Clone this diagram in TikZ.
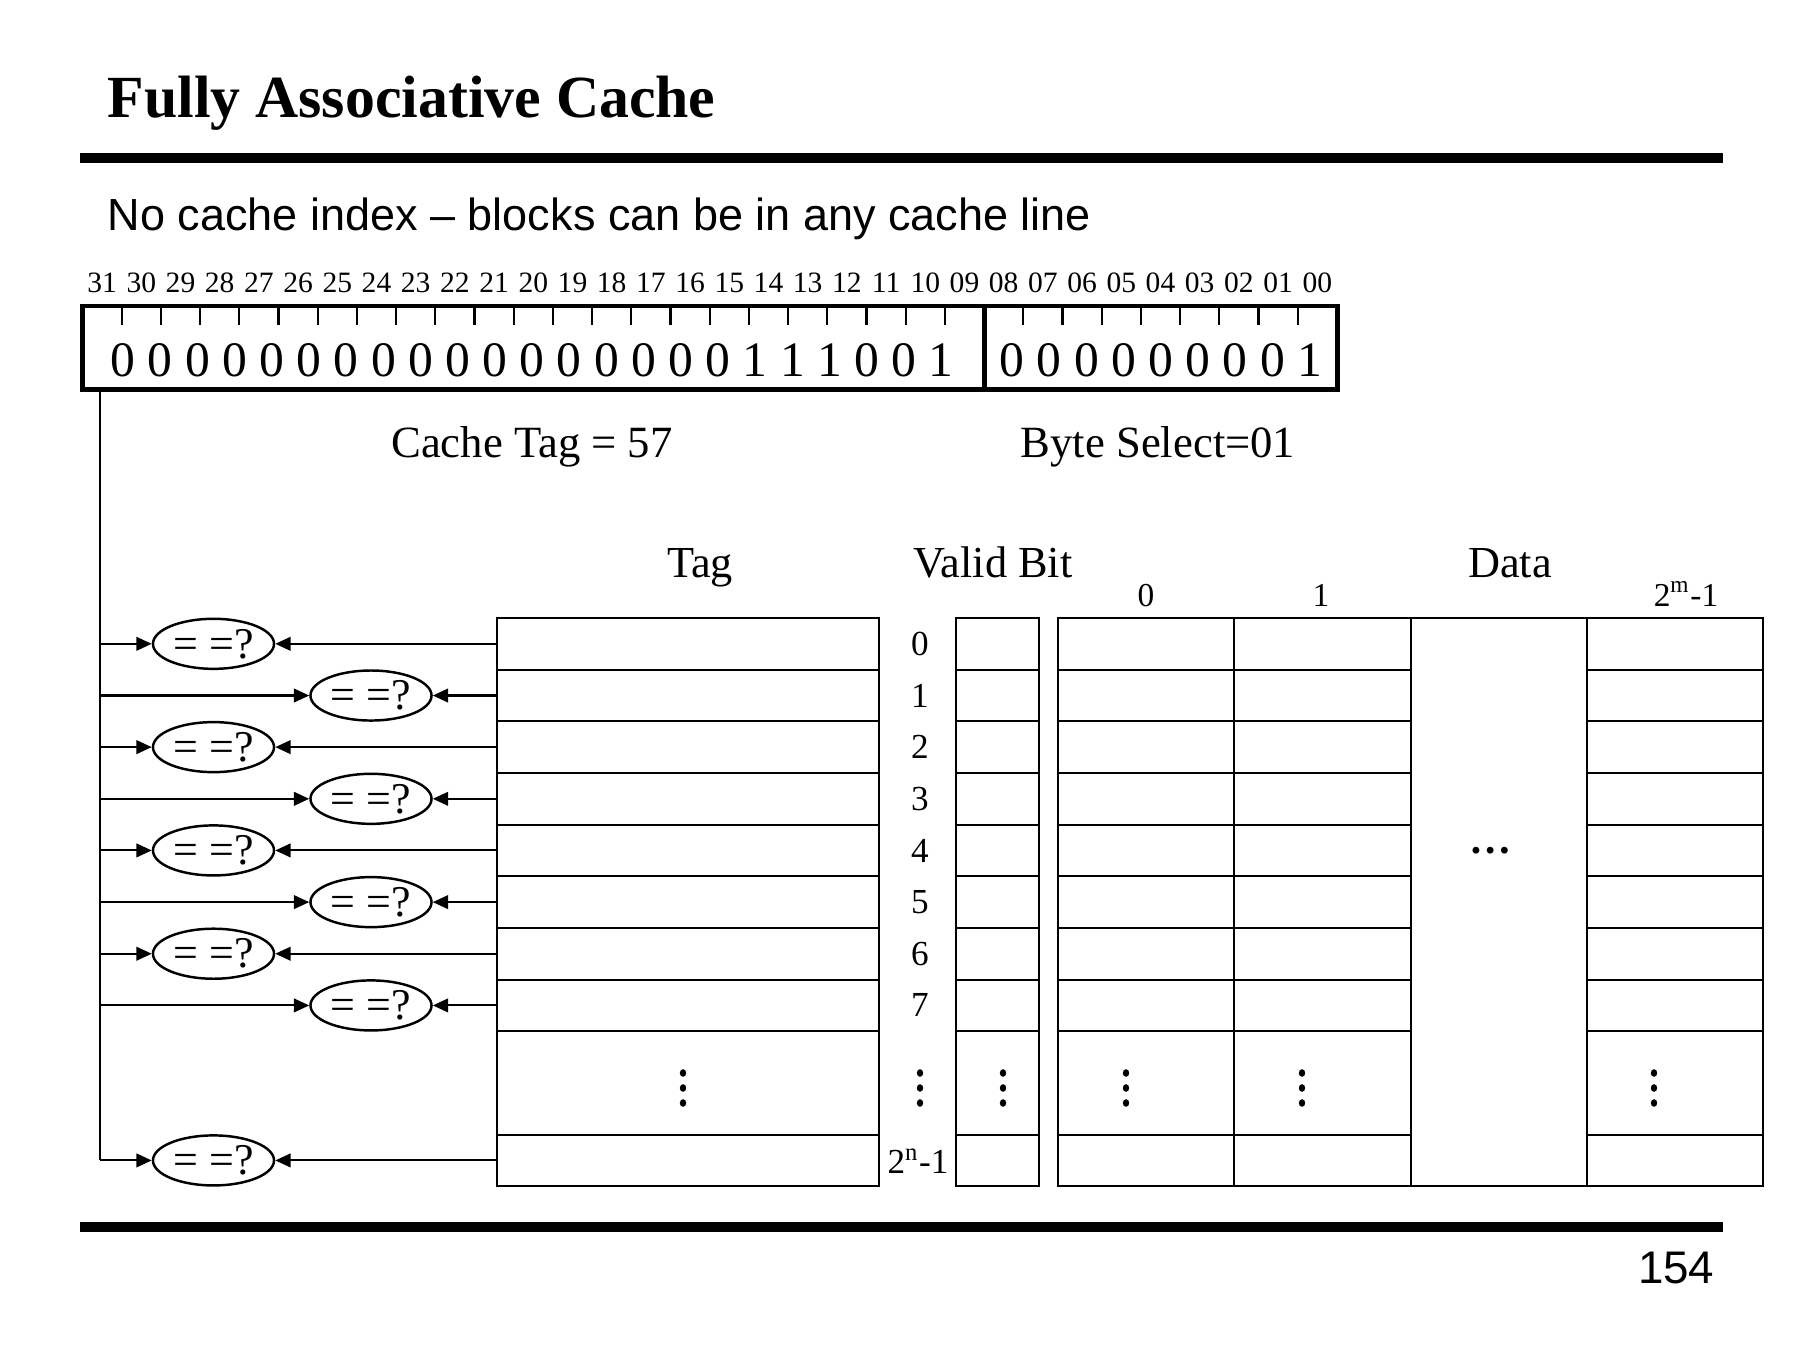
\documentclass[tikz,border=0pt]{standalone}
\usepackage{fontspec}
\setmainfont{Liberation Serif}
\setsansfont{Liberation Sans}
\usetikzlibrary{shapes.geometric,arrows.meta,positioning}

\begin{document}
\begin{tikzpicture}[
  x=0.01cm, y=-0.01cm,
  >={Triangle[length=4.4pt,width=3.9pt]},
  rule/.style={line width=2.85pt},
  txt/.style={inner sep=0pt,anchor=base},
  slot/.style={draw,line width=0.6pt,inner sep=0pt,outer sep=0pt,minimum height=0.5165cm},
  cmp/.style={ellipse,draw,line width=0.7pt,inner sep=0pt,minimum width=1.21cm,
    minimum height=0.5cm,font=\fontsize{12.5}{13}\selectfont},
  link/.style={->,line width=0.6pt}
]
  \useasboundingbox (0,0) rectangle (1800,1350);

  % heading
  \node[txt,anchor=base west,font=\bfseries\fontsize{17}{20}\selectfont] (title) at (107,117) {Fully Associative Cache};
  \draw[rule] (80,158) -- (1723,158);
  \node[txt,anchor=base west,font=\sffamily\fontsize{12.8}{15}\selectfont] (subtitle) at (107,230) {No cache index – blocks can be in any cache line};

  % address word
  \foreach \n [count=\k from 0] in {31,30,29,28,27,26,25,24,23,22,21,20,19,18,17,16,15,14,13,12,11,10,09,08,07,06,05,04,03,02,01,00}
    \node[txt,font=\fontsize{8.4}{9}\selectfont] (bitno\k) at (102.1+\k*39.2,292) {\n};
  \node[draw,line width=1.4pt,minimum width=12.545cm,minimum height=0.835cm,inner sep=0pt] (addr) at (709.7,347.75) {};
  \foreach \k in {1,...,22,24,25,...,31}
    \draw[line width=0.6pt] (82.5+\k*39.2,306) -- ++(0,19);
  \draw[line width=1.4pt] (984.1,306) -- (984.1,389.5);
  \node[txt,anchor=base west,font=\fontsize{14.1}{16}\selectfont] (tagbits) at (110,376) {0 0 0 0 0 0 0 0 0 0 0 0 0 0 0 0 0 1 1 1 0 0 1};
  \node[txt,anchor=base west,font=\fontsize{14.1}{16}\selectfont] (offbits) at (999,376) {0 0 0 0 0 0 0 0 1};
  \node[txt,font=\fontsize{12.7}{15}\selectfont] (tagcap) at (532,457) {Cache Tag = 57};
  \node[txt,font=\fontsize{12.7}{15}\selectfont] (bytecap) at (1158,457) {Byte Select=01};

  % column headings
  \node[txt,font=\fontsize{12.6}{15}\selectfont] (taghd) at (700,577) {Tag};
  \node[txt,font=\fontsize{12.6}{15}\selectfont] (validhd) at (993,577) {Valid Bit};
  \node[txt,font=\fontsize{12.6}{15}\selectfont] (datahd) at (1510,577) {Data};
  \node[txt,font=\fontsize{9.5}{11}\selectfont] (byte0) at (1146,606) {0};
  \node[txt,font=\fontsize{9.5}{11}\selectfont] (byte1) at (1321,606) {1};
  \node[txt,font=\fontsize{9.5}{11}\selectfont] (bytem) at (1686,606) {2\textsuperscript{m}-1};

  % cache lines
  \foreach \r/\yc/\h in {0/643.8/1,1/695.5/1,2/747.1/1,3/798.8/1,4/850.4/1,5/902.1/1,6/953.7/1,7/1005.4/1,D/1082.9/2,N/1160.4/1} {
    \node[slot,minimum width=3.82cm,minimum height=\h*0.5165cm] (tag\r) at (688,\yc) {};
    \node[slot,minimum width=0.83cm,minimum height=\h*0.5165cm] (valid\r) at (997.5,\yc) {};
    \node[slot,minimum width=1.763cm,minimum height=\h*0.5165cm] (dataa\r) at (1146.2,\yc) {};
    \node[slot,minimum width=1.763cm,minimum height=\h*0.5165cm] (datab\r) at (1322.5,\yc) {};
    \node[slot,minimum width=1.763cm,minimum height=\h*0.5165cm] (datal\r) at (1675.1,\yc) {};
  }
  \node[slot,minimum width=1.763cm,minimum height=5.682cm] (datamid) at (1498.8,902.1) {};
  \node[txt,font=\bfseries\fontsize{12}{12}\selectfont] (hdots) at (1491,853) {\ldots};
  \foreach \r in {0,...,7}
    \node[inner sep=0pt,font=\fontsize{10}{12}\selectfont] (idx\r) at (920,0 |- tag\r) {\r};
  \node[txt,font=\fontsize{10}{12}\selectfont] (idxN) at (918,1173) {2\textsuperscript{n}-1};
  % vertical dots in the gap row
  \foreach \cx in {683,920,1003,1126,1302,1654}
    \foreach \dy in {1073,1088,1103}
      \fill (\cx,\dy) ellipse[x radius=3.2,y radius=3.8];

  % comparators
  \coordinate (tap) at (100,389.5);
  \foreach \r/\cx in {0/213.5,1/371,2/213.5,3/371,4/213.5,5/371,6/213.5,7/371,N/213.5} {
    \node[cmp] (cmp\r) at (\cx,0 |- tag\r) {= =?};
    \draw[link] (tag\r.west) -- (cmp\r.east);
    \draw[link] (cmp\r -| tap) -- (cmp\r.west);
  }
  \draw[line width=0.6pt] (tap) -- (cmpN -| tap);

  \draw[rule] (80,1227) -- (1723,1227);
  \node[txt,anchor=base east,font=\sffamily\fontsize{13}{15}\selectfont] (pageno) at (1715,1283) {154};
\end{tikzpicture}
\end{document}
